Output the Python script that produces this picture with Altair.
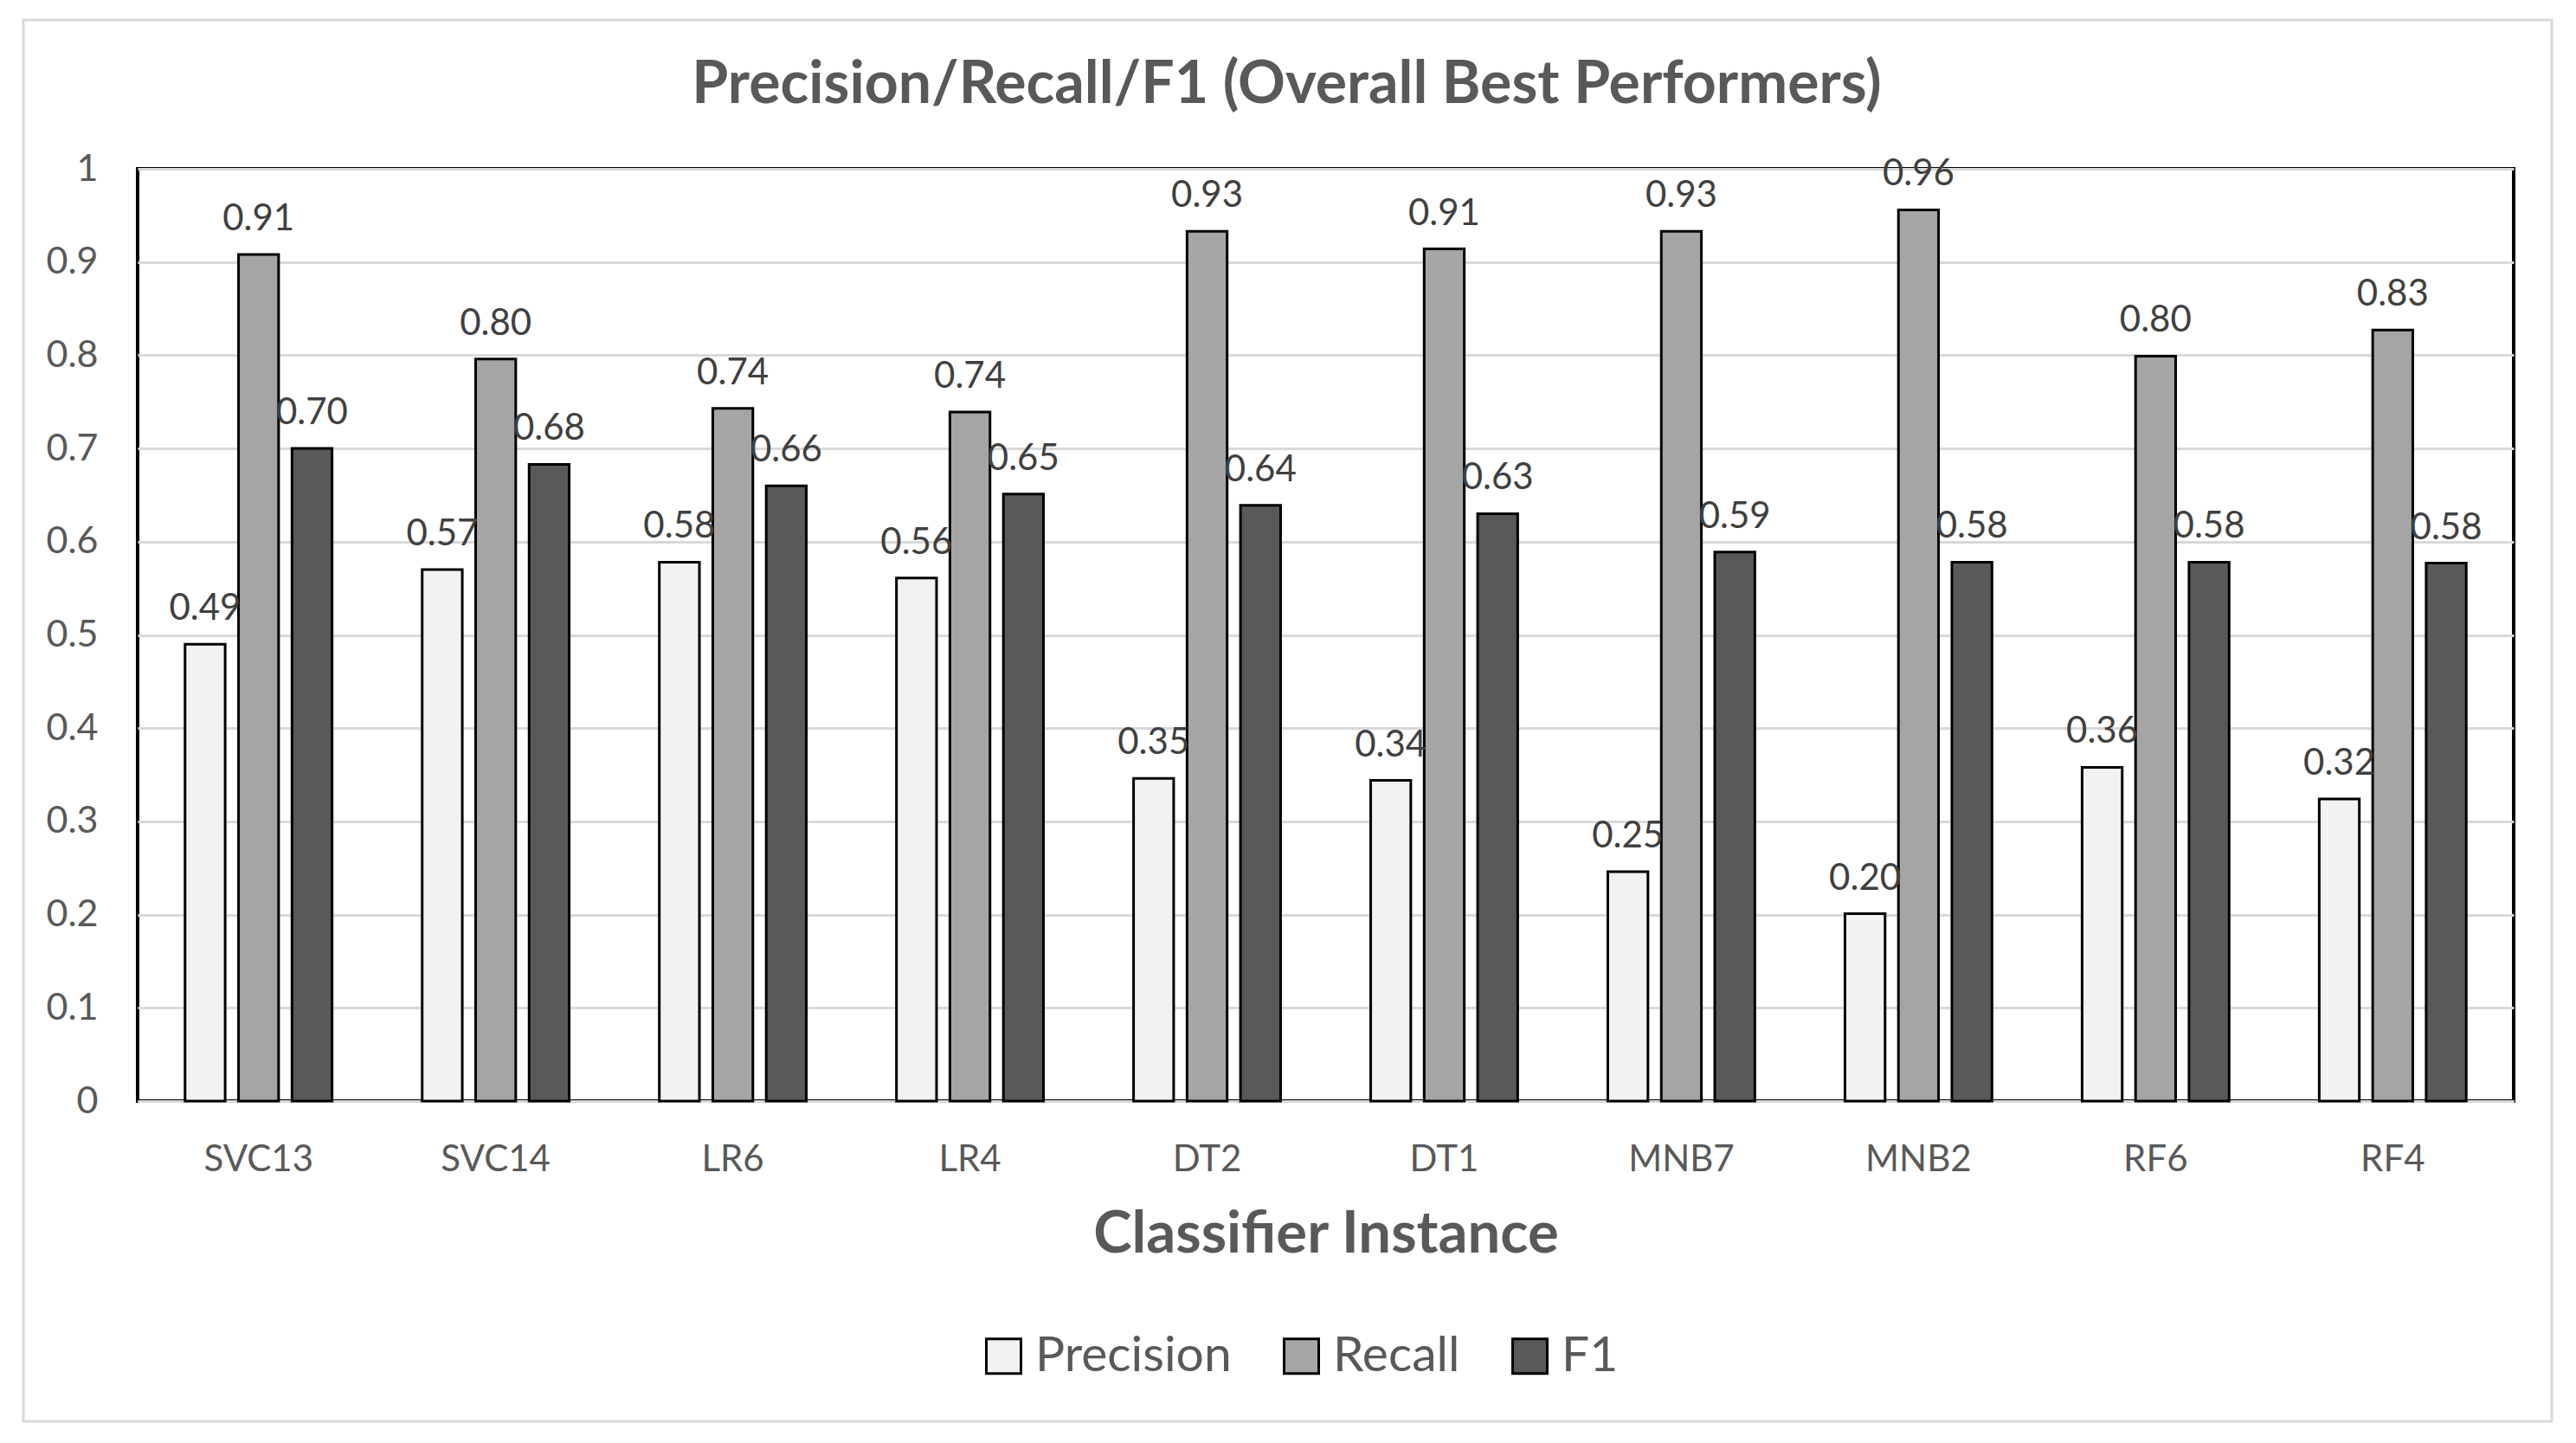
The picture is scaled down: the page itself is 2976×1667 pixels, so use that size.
import altair as alt
import pandas as pd

# ---- data ----
models = ["SVC13", "SVC14", "LR6", "LR4", "DT2", "DT1", "MNB7", "MNB2", "RF6", "RF4"]
metrics = ["Precision", "Recall", "F1"]
precision = [0.490, 0.570, 0.578, 0.561, 0.346, 0.344, 0.246, 0.201, 0.358, 0.324]
recall = [0.908, 0.796, 0.743, 0.739, 0.933, 0.914, 0.933, 0.956, 0.799, 0.827]
f1 = [0.700, 0.683, 0.660, 0.651, 0.639, 0.630, 0.589, 0.578, 0.578, 0.577]
colors = ["#f2f2f2", "#a5a5a5", "#595959"]
y_ticks = [0, 0.1, 0.2, 0.3, 0.4, 0.5, 0.6, 0.7, 0.8, 0.9, 1]

title_text = "Precision/Recall/F1 (Overall Best Performers)"
x_title = "Classifier Instance"

rows = []
for i, m in enumerate(models):
    for metric, series in zip(metrics, [precision, recall, f1]):
        rows.append({"Classifier": m, "Metric": metric, "Value": series[i]})
df = pd.DataFrame(rows)

FONT = "Lato"
W, H = 2745, 1077

base = alt.Chart(df).encode(
    x=alt.X(
        "Classifier:N",
        sort=models,
        scale=alt.Scale(paddingInner=0.38, paddingOuter=0.2),
        axis=alt.Axis(
            title=x_title,
            labelAngle=0,
            labelFont=FONT,
            labelFontSize=42,
            labelColor="#595959",
            labelPadding=47,
            ticks=False,
            tickSize=0,
            domainColor="#d9d9d9",
            domainWidth=3,
            titleFont=FONT,
            titleFontSize=67,
            titleFontWeight="bold",
            titleColor="#595959",
            titlePadding=33,
            grid=False,
        ),
    ),
    xOffset=alt.XOffset(
        "Metric:N", sort=metrics, scale=alt.Scale(paddingInner=0.25, paddingOuter=0)
    ),
    y=alt.Y(
        "Value:Q",
        scale=alt.Scale(domain=[0, 1], nice=False),
        axis=alt.Axis(
            values=y_ticks,
            format="~g",
            title=None,
            labelFont=FONT,
            labelFontSize=43,
            labelColor="#595959",
            labelPadding=46,
            ticks=False,
            tickSize=0,
            domain=False,
            grid=True,
            gridColor="#d9d9d9",
            gridWidth=3,
        ),
    ),
)

bars = base.mark_bar(stroke="black", strokeWidth=3).encode(
    color=alt.Color(
        "Metric:N",
        sort=metrics,
        scale=alt.Scale(domain=metrics, range=colors),
        legend=alt.Legend(
            orient="none",
            legendX=972,
            legendY=1343,
            direction="horizontal",
            title=None,
            labelFont=FONT,
            labelFontSize=57,
            labelColor="#595959",
            labelOffset=8,
            labelLimit=600,
            columnPadding=52,
            symbolType="square",
            symbolSize=1600,
            symbolStrokeColor="black",
            symbolStrokeWidth=3,
            symbolOpacity=1,
            padding=0,
        ),
    )
)

labels = base.mark_text(
    baseline="alphabetic", dy=-28, fontSize=42, color="#404040", font=FONT
).encode(text=alt.Text("Value:Q", format=".2f"))

frame = alt.Chart(pd.DataFrame({"k": [0]})).mark_rect(
    fillOpacity=0, stroke="#d9d9d9", strokeWidth=3
).encode(
    x=alt.value(-132), x2=alt.value(2789), y=alt.value(-172), y2=alt.value(1447)
)

chart = (
    alt.layer(frame, bars, labels)
    .properties(
        width=W,
        height=H,
        autosize=alt.AutoSizeParams(type="none"),
        padding={"left": 151, "top": 187, "right": 60, "bottom": 380},
        title=alt.TitleParams(
            title_text,
            font=FONT,
            fontSize=68,
            fontWeight="bold",
            color="#595959",
            anchor="middle",
            offset=0,
            baseline="alphabetic",
            dx=-45,
            dy=165,
        ),
    )
    .configure(font=FONT)
    .configure_view(stroke="black", strokeWidth=4)
)

chart.save("out.html", embed_options={"renderer": "svg", "actions": False})
